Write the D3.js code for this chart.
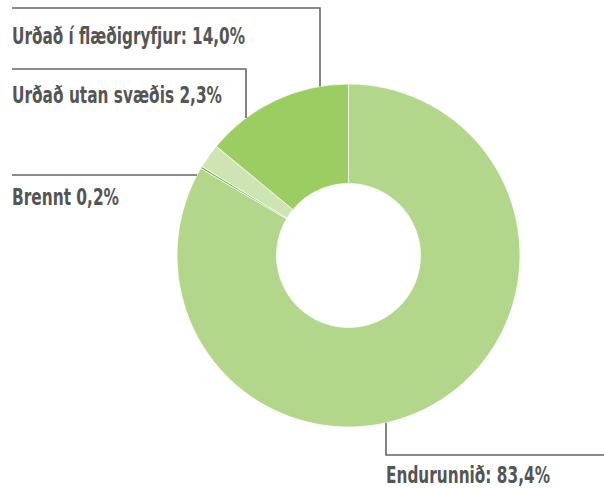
<!DOCTYPE html>
<html><head><meta charset="utf-8">
<script src="https://cdn.jsdelivr.net/npm/d3@7"></script>
<style>body{margin:0;background:#fff}svg{display:block}</style>
</head><body>
<script>
const categories = ["Endurunnið", "Brennt", "Urðað utan svæðis", "Urðað í flæðigryfjur"];
const values = [83.4, 0.2, 2.3, 14.0];
const labels = ["Endurunnið: 83,4%", "Brennt 0,2%", "Urðað utan svæðis 2,3%", "Urðað í flæðigryfjur: 14,0%"];
const colors = ["#b3d78a", "#6cb23c", "#cee4b3", "#9ccd63"];

const W = 604, H = 488, cx = 348.5, cy = 255.5, R = 171.5, r0 = 72;
const svg = d3.select("body").append("svg").attr("width", W).attr("height", H);
const g = svg.append("g").attr("transform", `translate(${cx},${cy})`);
const pie = d3.pie().sort(null).value(d => d)(values);
const arc = d3.arc().innerRadius(r0).outerRadius(R);
g.selectAll("path").data(pie).join("path")
  .attr("d", arc).attr("fill", (d, i) => colors[i])
  .attr("stroke", "#fff").attr("stroke-width", 0.75);

const lc = "#666";
function arcY(x, sign){ const dx = x - cx; return cy + sign*Math.sqrt(R*R - dx*dx); }
function arcX(y, sign){ const dy = y - cy; return cx + sign*Math.sqrt(R*R - dy*dy); }
const lines = [
  [[12, 8], [320, 8], [320, arcY(320, -1)]],
  [[12, 69], [246, 69], [246, arcY(246, -1)]],
  [[12, 175], [arcX(175, -1), 175]],
  [[386, arcY(386, 1)], [386, 455], [604, 455]]
];
svg.selectAll("path.ld").data(lines).join("path").attr("class", "ld")
  .attr("d", d => d3.line()(d)).attr("fill", "none").attr("stroke", lc).attr("stroke-width", 1.6);

const tpos = [[386, 482.5, 164], [12, 205, 107], [12, 103, 210], [12, 44, 233]];
svg.selectAll("text").data(labels).join("text")
  .attr("x", (d, i) => tpos[i][0]).attr("y", (d, i) => tpos[i][1])
  .attr("textLength", (d, i) => tpos[i][2]).attr("lengthAdjust", "spacingAndGlyphs")
  .text(d => d)
  .attr("font-family", "'DejaVu Sans Condensed', 'DejaVu Sans', sans-serif")
  .attr("font-stretch", "condensed")
  .attr("font-weight", "bold").attr("font-size", 22.5).attr("fill", "#555");
</script>
</body></html>
